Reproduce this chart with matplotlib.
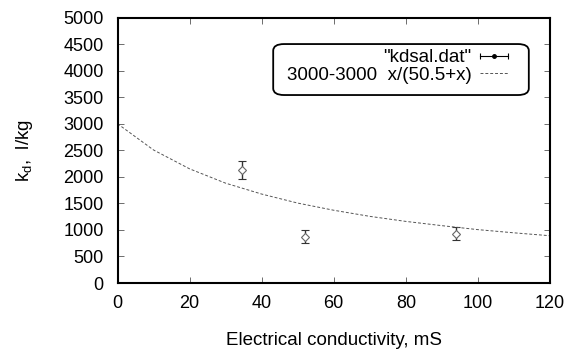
import matplotlib
matplotlib.use("Agg")
import matplotlib.pyplot as plt
from matplotlib.lines import Line2D
from matplotlib.patches import FancyBboxPatch
from matplotlib.legend_handler import HandlerLine2D

plt.rcParams['font.family'] = ['Liberation Sans', 'DejaVu Sans']
plt.rcParams['mathtext.fontset'] = 'custom'
plt.rcParams['mathtext.rm'] = 'Liberation Sans'
plt.rcParams['mathtext.it'] = 'Liberation Sans'

# measured points (kdsal.dat)
cond = [34.5, 52.0, 93.8]
kd = [2120, 875, 925]
kd_err = [170, 115, 122]

# fitted curve 3000-3000 x/(50.5+x)
fit_x = [0, 10, 20, 30, 40, 50, 60, 70, 80, 90, 100, 110, 120]
fit_y = [3000, 2505, 2150, 1880, 1675, 1505, 1370, 1255, 1160, 1080, 1005, 945, 890]

fs = 13
fs_lab = 13.5

fig = plt.figure(figsize=(5.7, 3.5), dpi=100)
ax = fig.add_axes([117.5 / 570, 1 - 283 / 350, 432.5 / 570, 265.5 / 350])

ax.errorbar(cond, kd, yerr=kd_err, fmt='D', ms=3.8, mfc='white', mec='#666666',
            mew=0.8, ecolor='#333333', elinewidth=1.0, capsize=3, capthick=1.0)
line, = ax.plot(fit_x, fit_y, color='#555555', lw=0.7, ls=(0, (3, 2)))

ax.set_xlim(0, 120)
ax.set_ylim(0, 5000)
ax.set_xticks(range(0, 121, 20))
ax.set_yticks(range(0, 5001, 500))
ax.tick_params(direction='in', top=True, right=True, length=4, width=0.6,
               color='#555555', labelsize=fs)
ax.tick_params(axis='y', pad=10)
ax.tick_params(axis='x', pad=9)
for s in ax.spines.values():
    s.set_linewidth(1.5)

ax.set_xlabel('Electrical conductivity, mS', fontsize=fs_lab, labelpad=14)
ax.set_ylabel(r'k$_\mathrm{d}$,  l/kg', fontsize=fs_lab, labelpad=20)

# gnuplot-like legend sample: horizontal error bar with a dot
bar = Line2D([], [], color='black', lw=0.8, marker='|', ms=5, mew=0.8)
dot = Line2D([], [], color='black', ls='none', marker='o', ms=2.5)
leg = ax.legend([(bar, dot), line], ['"kdsal.dat"', '3000-3000  x/(50.5+x)'],
                handler_map={bar: HandlerLine2D(marker_pad=0, numpoints=2),
                             dot: HandlerLine2D(numpoints=1)},
                markerfirst=False, loc='upper right',
                bbox_to_anchor=(0.903, 0.88), borderaxespad=0, borderpad=0,
                fontsize=fs_lab, handlelength=1.5, handletextpad=0.45,
                labelspacing=0.0, frameon=False)

box = FancyBboxPatch((0.36, 0.708), 0.591, 0.192, transform=ax.transAxes,
                     boxstyle='round,pad=0,rounding_size=0.025', fc='none',
                     ec='black', lw=1.3, zorder=5)
ax.add_patch(box)

fig.savefig('out.png', dpi=100)
